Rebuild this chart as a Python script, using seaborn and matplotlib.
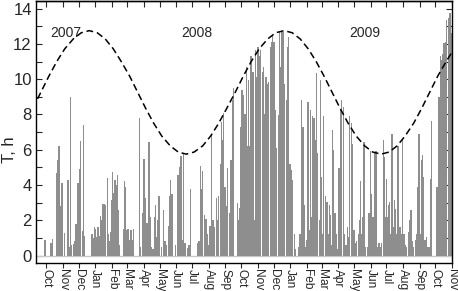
import pandas as pd
import numpy as np
import matplotlib
matplotlib.use("Agg")
import matplotlib.pyplot as plt
import matplotlib.dates as mdates
import seaborn as sns

# daily dark-time durations, day offsets counted from 2007-10-01
day = [-2, 9, 12, 19, 20, 22, 24, 26, 28, 30, 34, 41, 43, 46, 48, 51, 53, 56, 60, 62,
       64, 65, 68, 70, 72, 86, 89, 91, 93, 95, 97, 100, 102, 104, 106, 109, 111, 112, 115, 117,
       120, 122, 124, 125, 127, 129, 130, 132, 134, 136, 138, 145, 147, 149, 151, 154, 156, 159, 160, 162,
       164, 175, 177, 181, 183, 185, 187, 189, 193, 196, 198, 201, 203, 205, 207, 209, 212, 213, 217, 220,
       223, 226, 230, 232, 234, 236, 243, 248, 251, 253, 255, 258, 261, 265, 268, 271, 285, 287, 290, 292,
       294, 297, 300, 302, 304, 308, 310, 313, 316, 320, 322, 324, 327, 329, 331, 333, 336, 338, 341, 344,
       347, 350, 352, 359, 362, 364, 366, 368, 371, 373, 376, 378, 380, 382, 385, 388, 391, 393, 396, 398,
       401, 403, 406, 408, 410, 413, 416, 418, 421, 423, 425, 428, 430, 433, 436, 438, 440, 443, 445, 448,
       451, 453, 455, 458, 460, 463, 466, 468, 474, 477, 479, 482, 484, 487, 490, 492, 494, 496, 499, 500,
       503, 505, 508, 510, 513, 515, 517, 519, 521, 524, 525, 527, 530, 532, 533, 535, 538, 540, 542, 544,
       547, 550, 553, 555, 558, 560, 563, 566, 568, 570, 573, 575, 578, 580, 583, 586, 588, 590, 592, 595,
       597, 600, 603, 606, 609, 611, 614, 616, 619, 622, 625, 628, 630, 633, 635, 637, 639, 641, 643, 645,
       647, 649, 652, 654, 656, 659, 661, 664, 666, 669, 672, 674, 676, 680, 683, 685, 688, 690, 693, 695,
       698, 700, 703, 705, 707, 709, 711, 714, 716, 719, 722, 724, 734, 738, 740, 743, 745, 747, 750, 752,
       755, 758, 760]
T = [0.88, 0.73, 0.92, 1.6, 4.7, 5.4, 6.2, 2.8, 2.4, 4.1, 1.3, 4.3, 0.5, 9.0, 0.6, 0.65, 0.8, 1.8, 4.1, 2.4,
     4.9, 6.5, 1.4, 7.4, 1.1, 1.2, 1.0, 1.6, 1.5, 1.05, 1.6, 1.1, 2.25, 2.0, 2.9, 2.95, 2.8, 2.85, 4.4, 1.25,
     0.85, 1.35, 3.15, 4.75, 3.55, 4.3, 4.2, 4.0, 4.55, 2.6, 0.6, 1.5, 4.2, 3.9, 1.45, 1.5, 0.9, 1.45, 0.5, 0.9,
     1.5, 7.8, 0.5, 2.4, 5.45, 5.45, 3.25, 1.85, 6.45, 2.2, 0.5, 0.4, 2.2, 2.85, 1.05, 2.0, 3.35, 0.97, 0.5, 2.6,
     0.8, 0.6, 1.7, 3.4, 4.3, 3.5, 0.6, 4.55, 5.0, 5.65, 0.9, 5.75, 0.7, 0.45, 0.6, 3.8, 0.7, 0.8, 5.1, 3.75,
     4.8, 2.3, 2.1, 1.25, 0.6, 1.7, 6.9, 2.0, 1.6, 3.25, 2.0, 3.35, 5.2, 7.55, 6.55, 8.1, 3.9, 2.8, 4.95, 2.4,
     5.4, 8.8, 9.5, 3.0, 2.0, 2.7, 7.3, 9.4, 9.1, 8.05, 10.7, 6.2, 9.95, 6.2, 11.3, 10.4, 2.0, 11.65, 10.15, 11.85,
     11.3, 11.65, 10.4, 10.7, 8.05, 10.15, 9.75, 9.85, 11.85, 12.1, 12.5, 12.1, 8.25, 6.1, 7.95, 12.7, 10.7, 12.7, 12.7, 9.7,
     8.8, 11.85, 12.4, 5.2, 4.85, 4.3, 1.25, 0.4, 0.5, 1.25, 8.8, 7.3, 2.85, 0.5, 0.9, 8.7, 1.45, 8.25, 2.2, 7.9,
     7.8, 6.55, 10.35, 5.8, 2.0, 9.95, 4.45, 1.25, 7.9, 3.35, 1.25, 3.05, 1.25, 2.85, 2.3, 0.6, 7.1, 6.0, 2.4, 1.25,
     0.4, 4.95, 8.25, 8.8, 8.45, 1.25, 0.6, 1.6, 1.05, 7.9, 7.5, 6.35, 1.45, 0.7, 0.8, 1.25, 2.0, 4.2, 1.25, 2.2,
     6.45, 0.5, 0.5, 2.4, 5.9, 3.5, 2.2, 5.8, 5.9, 0.5, 0.7, 0.5, 0.7, 6.55, 5.6, 2.2, 4.35, 2.2, 2.85, 3.05,
     1.25, 6.9, 1.6, 3.15, 2.65, 1.25, 6.2, 1.6, 1.25, 6.55, 1.25, 0.6, 0.5, 1.35, 2.0, 2.6, 0.8, 0.5, 0.9, 1.25,
     3.9, 6.9, 1.25, 5.4, 5.7, 4.45, 0.9, 1.05, 0.5, 0.5, 4.35, 7.6, 3.9, 9.0, 11.3, 11.1, 11.45, 12.05, 12.1, 13.35,
     13.45, 13.75, 12.6]

# length of the night (dashed curve)
curve_dates = ["2007-09-06", "2007-09-21", "2007-10-06", "2007-10-21", "2007-11-05", "2007-11-21",
               "2007-12-06", "2007-12-21", "2008-01-05", "2008-01-20", "2008-02-04", "2008-02-19",
               "2008-03-06", "2008-03-21", "2008-04-05", "2008-04-20", "2008-05-05", "2008-05-21",
               "2008-06-05", "2008-06-20", "2008-07-05", "2008-07-21", "2008-08-05", "2008-08-20",
               "2008-09-04", "2008-09-20", "2008-10-05", "2008-10-20", "2008-11-04", "2008-11-20",
               "2008-12-05", "2008-12-21", "2009-01-05", "2009-01-20", "2009-02-04", "2009-02-19",
               "2009-03-06", "2009-03-21", "2009-04-05", "2009-04-20", "2009-05-05", "2009-05-21",
               "2009-06-05", "2009-06-21", "2009-07-06", "2009-07-21", "2009-08-05", "2009-08-21",
               "2009-09-05", "2009-09-20", "2009-10-05", "2009-10-21", "2009-11-05"]
curve_T = [8.34, 9.25, 10.16, 11.0, 11.72, 12.28, 12.63, 12.75, 12.63, 12.28, 11.72, 11.0,
           10.16, 9.25, 8.34, 7.5, 6.78, 6.22, 5.87, 5.75, 5.87, 6.22, 6.78, 7.5,
           8.34, 9.25, 10.16, 11.0, 11.72, 12.28, 12.63, 12.75, 12.63, 12.28, 11.72, 11.0,
           10.16, 9.25, 8.34, 7.5, 6.78, 6.22, 5.87, 5.75, 5.87, 6.22, 6.78, 7.5,
           8.34, 9.25, 10.16, 11.0, 11.72]

years = ["2007", "2008", "2009"]
year_pos = ["2007-11-07", "2008-07-10", "2009-05-21"]

sns.set_theme(style="ticks")
plt.rcParams['font.family'] = ['Liberation Sans', 'DejaVu Sans']

start = pd.Timestamp("2007-10-01")
bars = pd.DataFrame({"date": start + pd.to_timedelta(day, unit="D"), "T": T})
curve = pd.DataFrame({"date": pd.to_datetime(curve_dates), "T": curve_T})

fig = plt.figure(figsize=(4.58, 2.91), dpi=100)
ax = fig.add_axes([0.0786, 0.0962, 0.9083, 0.9004])

ax.axhline(0, color="#c8c8c8", lw=1.0, zorder=1)
ax.bar(bars["date"], bars["T"], width=2.7, color="#8e8e8e", linewidth=0, zorder=2)
sns.lineplot(data=curve, x="date", y="T", color="black", lw=1.1,
             linestyle=(0, (4.5, 2.5)), ax=ax, zorder=3)

for y, p in zip(years, year_pos):
    ax.text(pd.Timestamp(p), 12.6, y, ha="center", va="center", fontsize=10)

ax.set_xlim(pd.Timestamp("2007-09-12"), pd.Timestamp("2009-11-01"))
ax.set_ylim(-0.42, 14.43)
ax.set_yticks(range(0, 15))
ax.set_yticklabels([str(v) if v % 2 == 0 else "" for v in range(0, 15)])
ax.xaxis.set_major_locator(mdates.MonthLocator())
ax.xaxis.set_major_formatter(mdates.DateFormatter("%b"))
ax.tick_params(axis="y", direction="in", length=4, width=0.8, right=True, pad=3,
               labelsize=12)
ax.tick_params(axis="x", direction="out", length=3.5, width=0.8, pad=0.5,
               labelsize=8.6, labelrotation=-90)
for lab in ax.get_xticklabels():
    lab.set_ha("center")
    lab.set_va("top")

# inward ticks along the top edge
top = ax.secondary_xaxis("top")
top.xaxis.set_major_locator(mdates.MonthLocator())
top.tick_params(axis="x", direction="in", length=4, width=0.8, labeltop=False)
top.spines["top"].set_linewidth(1.0)

for s in ax.spines.values():
    s.set_linewidth(1.0)
    s.set_color("black")

ax.set_xlabel("")
ax.set_ylabel("")
fig.text(9 / 458, 1 - 150 / 291, "T, h", rotation=90, ha="center", va="center",
         fontsize=12)

fig.savefig("out.png", dpi=100)
